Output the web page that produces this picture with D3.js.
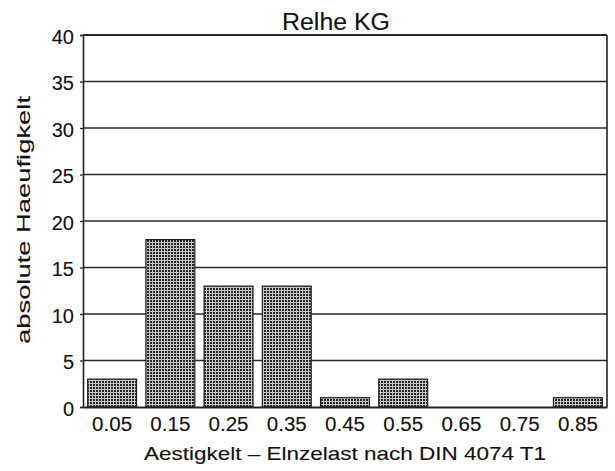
<!DOCTYPE html>
<html>
<head>
<meta charset="utf-8">
<script src="https://cdn.jsdelivr.net/npm/d3@7"></script>
<style>
  html, body { margin: 0; padding: 0; background: #fff; }
  svg { display: block; font-family: "Liberation Sans", Arial, Helvetica, sans-serif; }
  svg text { stroke: #111; stroke-width: 0.12px; }
</style>
</head>
<body>
<svg id="chart" width="615" height="471"></svg>
<script>
const categories = ["0.05", "0.15", "0.25", "0.35", "0.45", "0.55", "0.65", "0.75", "0.85"];
const counts = [3, 18, 13, 13, 1, 3, 0, 0, 1];
const yTicks = [0, 5, 10, 15, 20, 25, 30, 35, 40];
const title = "Relhe KG";
const xTitle = "Aestigkelt  –  Elnzelast nach DIN 4074 T1";
const yTitle = "absolute Haeufigkelt";

const svg = d3.select("#chart");
const m = { left: 83, right: 607, top: 35, bottom: 407 };

const x = d3.scaleBand().domain(categories).range([m.left, m.right])
  .paddingInner(0.16).paddingOuter(0.08);
const y = d3.scaleLinear().domain([0, 40]).range([m.bottom, m.top]);

// pattern
const defs = svg.append("defs");
const pat = defs.append("pattern").attr("id", "hatch")
  .attr("patternUnits", "userSpaceOnUse").attr("width", 3).attr("height", 3);
pat.append("rect").attr("width", 3).attr("height", 3).attr("fill", "#c8c8c8");
pat.append("rect").attr("width", 2).attr("height", 2).attr("fill", "#262626");

// grid lines
svg.append("g").selectAll("line").data(yTicks.filter(d => d > 0)).join("line")
  .attr("x1", m.left).attr("x2", m.right)
  .attr("y1", d => y(d)).attr("y2", d => y(d))
  .attr("stroke", "#2a2a2a").attr("stroke-width", d => d === 40 ? 1.8 : 1.4);

// y axis
const yAxis = svg.append("g").attr("transform", `translate(${m.left},0)`)
  .call(d3.axisLeft(y).tickValues(yTicks).tickSize(3).tickPadding(6));
yAxis.select(".domain").attr("stroke", "#222").attr("stroke-width", 1.6);
yAxis.selectAll(".tick line").attr("stroke", "#222").attr("stroke-width", 1.3);
yAxis.selectAll(".tick text").attr("font-size", 20).attr("fill", "#111")
  .attr("dy", "0.4em")
  .attr("font-family", "'Liberation Sans', Arial, sans-serif");

// right border
svg.append("line").attr("x1", m.right).attr("x2", m.right)
  .attr("y1", y(40)).attr("y2", y(0)).attr("stroke", "#222").attr("stroke-width", 1.6);

// bars
svg.append("g").selectAll("rect").data(categories.map((c, i) => ({ c, v: counts[i] })).filter(d => d.v > 0))
  .join("rect")
  .attr("x", d => x(d.c)).attr("width", x.bandwidth())
  .attr("y", d => y(d.v)).attr("height", d => y(0) - y(d.v))
  .attr("fill", "url(#hatch)").attr("stroke", "#222").attr("stroke-width", 1.2);

// x axis
const xAxis = svg.append("g").attr("transform", `translate(0,${m.bottom})`)
  .call(d3.axisBottom(x).tickSize(0).tickPadding(10));
xAxis.select(".domain").attr("stroke", "#222").attr("stroke-width", 1.8);
xAxis.selectAll(".tick text").attr("font-size", 20).attr("fill", "#111")
  .attr("textLength", 40).attr("lengthAdjust", "spacingAndGlyphs")
  .attr("font-family", "'Liberation Sans', Arial, sans-serif");

// titles
svg.append("text").attr("x", 336).attr("y", 30).attr("text-anchor", "middle")
  .attr("font-size", 23).attr("fill", "#111")
  .attr("textLength", 108).attr("lengthAdjust", "spacingAndGlyphs").text(title);

svg.append("text").attr("x", 345).attr("y", 460).attr("text-anchor", "middle")
  .attr("font-size", 19).attr("fill", "#111")
  .attr("textLength", 402).attr("lengthAdjust", "spacingAndGlyphs").text(xTitle);

svg.append("text").attr("transform", "translate(30,220) rotate(-90)")
  .attr("text-anchor", "middle").attr("font-size", 19).attr("fill", "#111")
  .attr("textLength", 248).attr("lengthAdjust", "spacingAndGlyphs").text(yTitle);
</script>
</body>
</html>
